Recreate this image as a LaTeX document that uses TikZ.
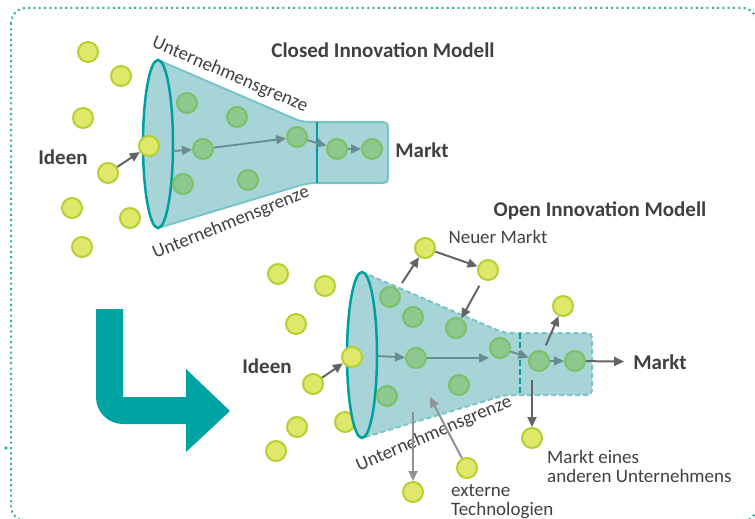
\documentclass[tikz,border=0pt]{standalone}
\usepackage{fontspec}
\setmainfont{Carlito}
\usetikzlibrary{arrows.meta}

\definecolor{framecol}{RGB}{56,176,160}
\definecolor{funnelfill}{RGB}{167,212,215}
\definecolor{funnelline}{RGB}{122,196,200}
\definecolor{mouthline}{RGB}{0,158,158}
\definecolor{ideafill}{RGB}{224,232,108}
\definecolor{ideaborder}{RGB}{180,208,50}
\definecolor{innerfill}{RGB}{143,200,143}
\definecolor{innerborder}{RGB}{122,194,104}
\definecolor{arrowgray}{RGB}{100,100,102}
\definecolor{innerarrow}{RGB}{105,140,145}
\definecolor{lightarrow}{RGB}{145,145,145}
\definecolor{textgray}{RGB}{64,64,64}
\definecolor{bigteal}{RGB}{0,163,163}

\tikzset{
  idea/.style={circle, draw=ideaborder, fill=ideafill, line width=2pt, minimum size=20pt, inner sep=0pt},
  inner/.style={idea, draw=innerborder, fill=innerfill},
  flow/.style={-{Triangle[length=10pt,width=9pt]}, line width=2pt, draw=arrowgray},
  innerflow/.style={flow, draw=innerarrow, line width=1.8pt},
  lightflow/.style={flow, draw=lightarrow},
  funnel/.style={fill=funnelfill, draw=funnelline, line width=2pt},
  mouth/.style={fill=funnelfill, draw=mouthline, line width=2.5pt},
  divider/.style={draw=mouthline, line width=2.5pt},
  frame/.style={draw=framecol, line width=2pt, rounded corners=15pt, dash pattern=on 2pt off 3.3pt},
  txt/.style={text=textgray, font=\fontsize{19}{19}\selectfont, inner sep=1pt},
  heading/.style={txt, font=\fontsize{21}{21}\selectfont\bfseries}
}

\begin{document}
\begin{tikzpicture}[x=1pt, y=-1pt]
    \useasboundingbox (0,0) rectangle (755,519);
    \draw[frame] (11,8) rectangle (757,521);
    \fill[framecol] (6,448) circle (1.8pt);

    % closed model
    \node[idea] (ci1) at (88,52) {};
    \node[idea] (ci2) at (121,76) {};
    \node[idea] (ci3) at (83,118) {};
    \node[idea] (ci5) at (108,173) {};
    \node[idea] (ci6) at (72,208) {};
    \node[idea] (ci7) at (130,218) {};
    \node[idea] (ci8) at (82,247) {};
    \filldraw[funnel] (158,60) -- (288,116) .. controls (302,122) .. (317,122) -- (378,122)
        .. controls (388,122) .. (388,132) -- (388,173) .. controls (388,183) .. (378,183)
        -- (317,183) .. controls (308,183) .. (288,189) -- (158,228) -- cycle;
    \filldraw[mouth] (158,144) ellipse [x radius=15pt, y radius=84pt];
    \draw[divider] (317,122) -- (317,183);
    \node[inner] (cg1) at (187,103) {};
    \node[inner] (cg2) at (237,117) {};
    \node[inner] (cg3) at (203,149) {};
    \node[inner] (cg4) at (183,184) {};
    \node[inner] (cg5) at (248,180) {};
    \node[inner] (cg6) at (297,137) {};
    \node[inner] (cg7) at (337,149) {};
    \node[inner] (cg8) at (372,149) {};
    \node[idea] (ci4) at (149,146) {};
    \coordinate (cmouth) at (173,151);
    \draw[flow] (ci5) -- (ci4);
    \draw[innerflow] (cmouth) -- (cg3);
    \draw[innerflow] (cg3) -- (cg6);
    \draw[innerflow] (cg6) -- (cg7);
    \draw[innerflow] (cg7) -- (cg8);
    \node[heading] (ctitle) at (383,50) {Closed Innovation Modell};
    \node[heading] (cideen) at (63,157) {Ideen};
    \node[heading] (cmarkt) at (422,150) {Markt};
    \node[txt, rotate=-23] (ctop) at (230,75) {Unternehmensgrenze};
    \node[txt, rotate=22] (cbot) at (231,223) {Unternehmensgrenze};

    % turn arrow
    \fill[bigteal] (96,309) -- (123,309) -- (123,397) -- (186,397) -- (186,369) -- (230,411)
        -- (186,452) -- (186,424) -- (123,424) .. controls (108,424) and (96,412) .. (96,397) -- cycle;

    % open model
    \node[idea] (oi1) at (278,274) {};
    \node[idea] (oi2) at (325,286) {};
    \node[idea] (oi3) at (296,324) {};
    \node[idea] (oi5) at (313,384) {};
    \node[idea] (oi6) at (297,427) {};
    \node[idea] (oi7) at (345,422) {};
    \node[idea] (oi8) at (276,451) {};
    \filldraw[funnel, dash pattern=on 5pt off 3pt] (362,272) -- (490,327) .. controls (504,333) .. (517,333)
        -- (582,333) .. controls (592,333) .. (592,343) -- (592,385) .. controls (592,395) .. (582,395)
        -- (517,395) .. controls (505,395) .. (495,398) -- (362,438) -- cycle;
    \filldraw[mouth] (362,355) ellipse [x radius=15pt, y radius=83pt];
    \draw[divider, dash pattern=on 6pt off 3pt] (520,333) -- (520,395);
    \node[inner] (og1) at (390,297) {};
    \node[inner] (og2) at (413,317) {};
    \node[inner] (og3) at (456,328) {};
    \node[inner] (og4) at (416,358) {};
    \node[inner] (og5) at (500,348) {};
    \node[inner] (og6) at (387,396) {};
    \node[inner] (og7) at (459,385) {};
    \node[inner] (og8) at (539,361) {};
    \node[inner] (og9) at (575,361) {};
    \node[idea] (oi4) at (352,357) {};
    \node[idea] (onew1) at (425,248) {};
    \node[idea] (onew2) at (488,270) {};
    \node[idea] (ospin) at (563,306) {};
    \node[idea] (oother) at (532,438) {};
    \node[idea] (oext1) at (413,492) {};
    \node[idea] (oext2) at (467,468) {};
    \node[heading] (otitle) at (600,211) {Open Innovation Modell};
    \node[txt] (oneu) at (498,237) {Neuer Markt};
    \node[heading] (oideen) at (267,366) {Ideen};
    \node[heading] (omarkt) at (660,362) {Markt};
    \node[txt, rotate=23] (obot) at (434,434) {Unternehmensgrenze};
    \node[txt, align=left, anchor=north west] (oanderer) at (546,449) {Markt eines\\anderen Unternehmens};
    \node[txt, align=left, anchor=north west] (oextern) at (450,483) {externe\\Technologien};
    \coordinate (omouth) at (377,356);
    \coordinate (otop) at (402,283);
    \coordinate (oleak) at (532,380);
    \coordinate (oout) at (413,412);
    \coordinate (oinflow) at (430,397);
    \draw[flow] (oi5) -- (oi4);
    \draw[innerflow] (omouth) -- (og4);
    \draw[innerflow] (og4) -- (og4 -| og5.west);
    \draw[innerflow] (og5) -- (og8);
    \draw[innerflow] (og8) -- (og9);
    \draw[flow, shorten >=8pt] (og9) -- (omarkt);
    \draw[flow] (otop) -- (onew1);
    \draw[flow] (onew1) -- (onew2);
    \draw[flow, shorten <=7pt] (onew2) -- (og3);
    \draw[flow, shorten <=6pt] (og8) -- (ospin);
    \draw[flow] (oleak) -- (oother);
    \draw[lightflow] (oout) -- (oext1);
    \draw[lightflow] (oext2) -- (oinflow);
\end{tikzpicture}
\end{document}
